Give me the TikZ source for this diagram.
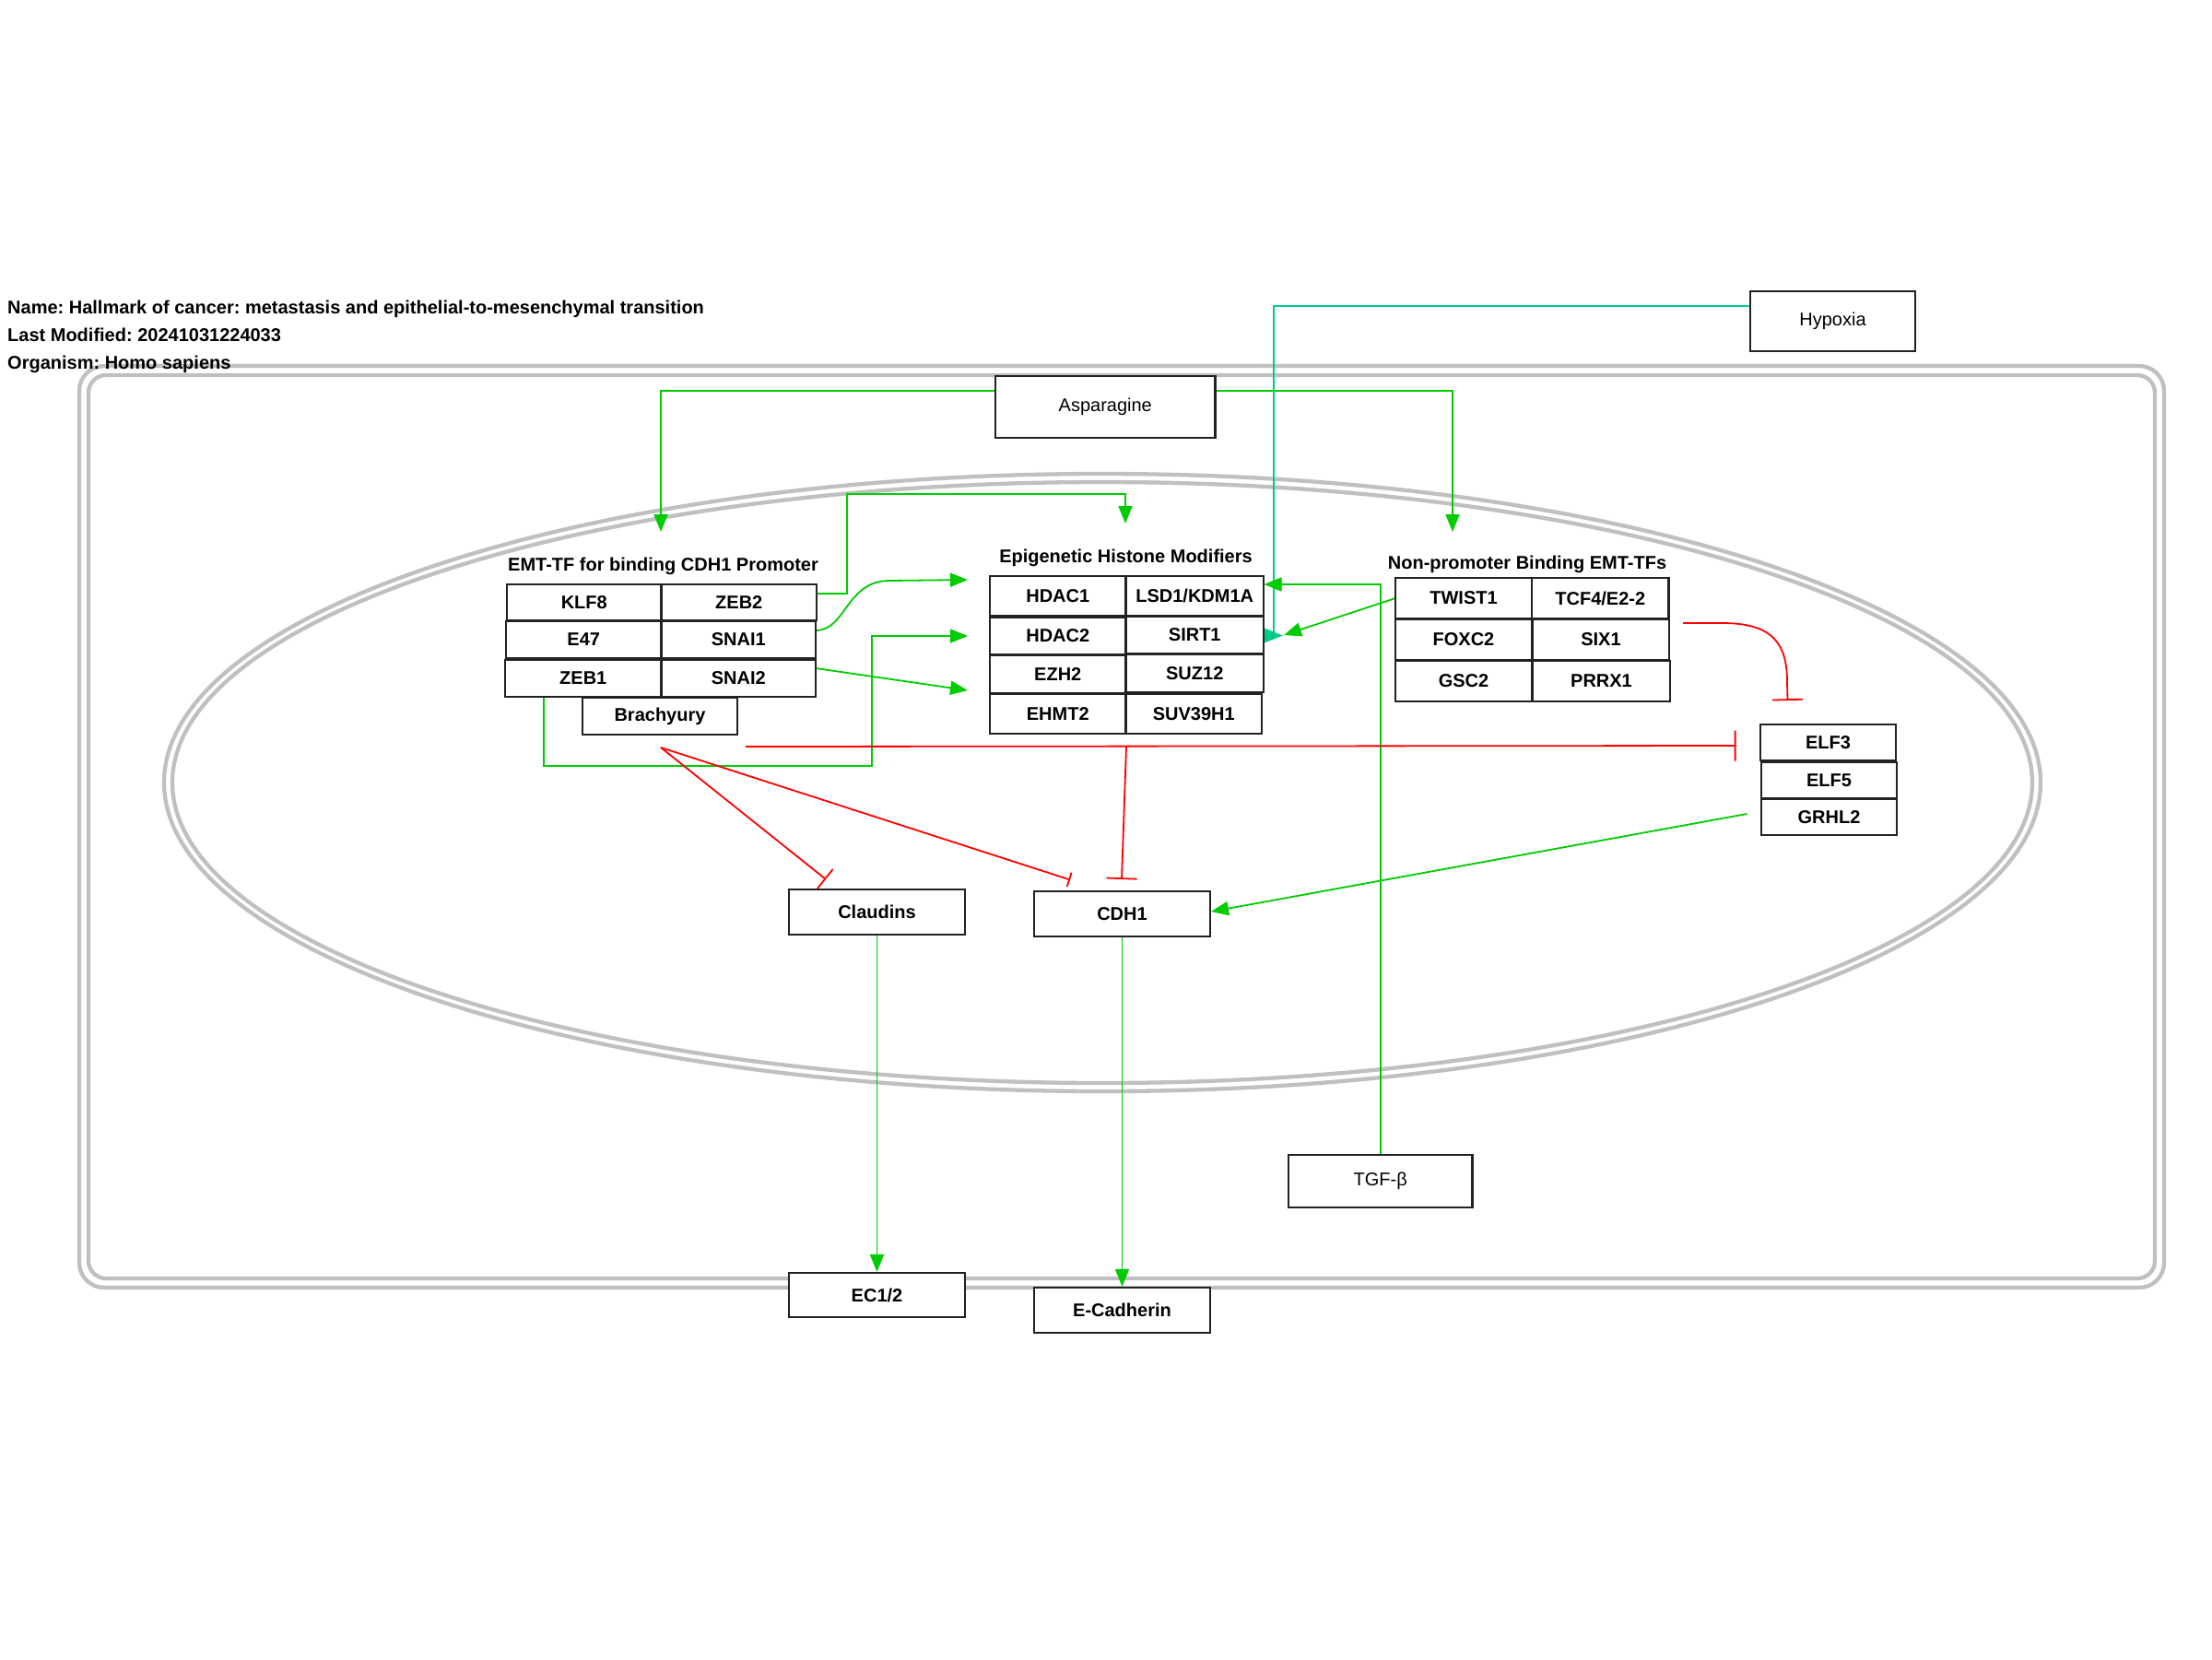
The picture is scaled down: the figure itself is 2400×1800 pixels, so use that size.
\documentclass[tikz,border=0pt]{standalone}
\usepackage{fontspec}
\setmainfont{Liberation Sans}
\usetikzlibrary{arrows.meta}
\frenchspacing
\definecolor{cellgray}{HTML}{C0C0C0}
\definecolor{lgreen}{HTML}{00CC00}
\definecolor{lteal}{HTML}{00CC88}
\definecolor{lred}{HTML}{FF0000}
\definecolor{boxline}{HTML}{222222}
\newcommand{\bx}[7][]{\node[box,#1,minimum width={(#5-#3)*1pt},minimum height={(#6-#4)*1pt}] (#2) at ({(#3+#5)/2},{(#4+#6)/2}) {#7};}
\tikzset{
  box/.style={draw=boxline,fill=white,line width=2.2pt,inner sep=0pt,font=\fontsize{20}{24}\selectfont\bfseries},
  grouplabel/.style={inner sep=0pt,anchor=base,font=\fontsize{20}{24}\selectfont\bfseries},
  titletext/.style={inner sep=0pt,anchor=base west,font=\fontsize{20}{24}\selectfont\bfseries},
  cellline/.style={draw=cellgray,line width=4.3pt},
  garrow/.style={draw=lgreen,line width=1.8pt,-{Triangle[length=19pt,width=15pt]}},
  tline/.style={draw=lteal,line width=1.8pt},
  rline/.style={draw=lred,line width=1.8pt},
}
\begin{document}
\begin{tikzpicture}[x=1pt,y=-1pt]
\useasboundingbox[fill=white] (0,0) rectangle (2400,1800);
% cell and nucleus
\draw[cellline,rounded corners=27pt] (86,397) rectangle (2348,1397);
\draw[cellline,rounded corners=19pt] (96,407) rectangle (2338,1387);
\draw[cellline] (1196,849) ellipse [x radius=1018pt, y radius=335pt];
\draw[cellline] (1196,849) ellipse [x radius=1009pt, y radius=326pt];
% title
\node[titletext] (t1) at (8,340) {Name: Hallmark of cancer: metastasis and epithelial-to-mesenchymal transition};
\node[titletext] (t2) at (8,370) {Last Modified: 20241031224033};
\node[titletext] (t3) at (8,400) {Organism: Homo sapiens};
% group labels
\node[grouplabel] (gemt) at (719.5,619) {EMT-TF for binding CDH1 Promoter};
\node[grouplabel] (gepi) at (1221.5,610) {Epigenetic Histone Modifiers};
\node[grouplabel] (gnon) at (1657,617) {Non-promoter Binding EMT-TFs};
% helper coordinates
\coordinate (y332) at (0,332);
\coordinate (y424) at (0,424);
\coordinate (aspL) at (717,577);
\coordinate (aspR) at (1576,577);
\coordinate (hypc) at (1382,689.5);
\coordinate (twst) at (1514,649);
\coordinate (twtip) at (1393,689);
\coordinate (lsdtip) at (1371.5,634);
\coordinate (zb2st) at (886,644);
\coordinate (zb2k) at (919,536);
\coordinate (epitip) at (1221,568);
\coordinate (s1st) at (885,684);
\coordinate (s1tip) at (1050,629);
\coordinate (z1st) at (590,756);
\coordinate (z1a) at (590,831);
\coordinate (z1b) at (946,690);
\coordinate (z1tip) at (1050,690);
\coordinate (s2st) at (885,725);
\coordinate (s2tip) at (1050,749);
\coordinate (bro) at (717,811);
\coordinate (cltee) at (896,954);
\coordinate (cdtee) at (1161,954.5);
\coordinate (rst) at (809,810);
\coordinate (elftee) at (1883.5,809);
\coordinate (rbr) at (1222,810);
\coordinate (cdtee2) at (1217,954);
\coordinate (sixst) at (1826,676);
\coordinate (sixtee) at (1939.5,760);
\coordinate (grst) at (1895.5,883);
\coordinate (cdtip) at (1314,989);
% boxes whose anchors are used
\bx{asp}{1080}{408}{1318.5}{475}{\mdseries Asparagine}
\bx{hyp}{1899}{316}{2078}{381}{\mdseries Hypoxia}
\bx{tgf}{1398}{1253}{1597.5}{1310}{\mdseries TGF-β}
% connectors
\draw[garrow] (asp.west |- y424) -| (aspL);
\draw[garrow] (asp.east |- y424) -| (aspR);
\draw[tline] (hyp.west |- y332) -| (hypc);
\fill[lteal] (1371.5,681.5) -- (1392,689.5) -- (1371.5,697.5) -- cycle;
\draw[garrow] (tgf.north) |- (lsdtip);
\draw[garrow] (twst) -- (twtip);
\draw[garrow] (zb2st) -| (zb2k) -| (epitip);
\draw[garrow] (s1st) .. controls (918,684) and (918,630) .. (965,630) -- (s1tip);
\draw[garrow] (z1st) -- (z1a) -| (z1b) -- (z1tip);
\draw[garrow] (s2st) -- (s2tip);
\draw[rline,-{Bar[width=27pt]}] (bro) -- (cltee);
\draw[rline,-{Bar[width=16pt]}] (bro) -- (cdtee);
\draw[rline,-{Bar[width=33pt]}] (rst) -- (elftee);
\draw[rline,-{Bar[width=33pt]}] (rbr) -- (cdtee2);
\draw[rline,-{Bar[width=33pt]}] (sixst) -- (1869,676) .. controls (1925,676) and (1939,700) .. (1939,740) -- (sixtee);
\draw[garrow] (grst) -- (cdtip);
% EMT-TF group
\bx{klf8}{550}{634}{717.5}{673}{KLF8}
\bx{zeb2}{717.5}{634}{886}{673}{ZEB2}
\bx{e47}{549}{674}{717.5}{714}{E47}
\bx{snai1}{717.5}{674}{885}{714}{SNAI1}
\bx{zeb1}{548}{716}{717.5}{756}{ZEB1}
\bx{snai2}{717.5}{716}{885}{756}{SNAI2}
\bx{brachy}{632}{757}{800}{797}{Brachyury}
% Epigenetic group
\bx{hdac1}{1074}{625}{1221.5}{668}{HDAC1}
\bx{lsd1}{1221.5}{625}{1371}{668}{LSD1/KDM1A}
\bx{hdac2}{1074}{670}{1221.5}{710}{HDAC2}
\bx{sirt1}{1221.5}{669}{1371}{709}{SIRT1}
\bx{ezh2}{1074}{711}{1221.5}{752}{EZH2}
\bx{suz12}{1221.5}{710}{1371}{751}{SUZ12}
\bx{ehmt2}{1074}{753}{1221.5}{796}{EHMT2}
\bx{suv}{1221.5}{753}{1369}{796}{SUV39H1}
% Non-promoter group
\bx{twist1}{1514}{627}{1662}{671}{TWIST1}
\bx{tcf4}{1662}{627}{1810.5}{671}{TCF4/E2-2}
\bx{foxc2}{1514}{672}{1662}{716}{FOXC2}
\bx{six1}{1663}{672}{1811}{716}{SIX1}
\bx{gsc2}{1514}{717}{1662}{761}{GSC2}
\bx{prrx1}{1663}{717}{1812}{761}{PRRX1}
% ELF group
\bx{elf3}{1910}{786}{2057}{825}{ELF3}
\bx{elf5}{1911}{827}{2058}{866}{ELF5}
\bx{grhl2}{1911}{867}{2058}{906}{GRHL2}
% targets
\bx{claudins}{856}{965}{1047}{1014}{Claudins}
\bx{cdh1}{1122}{967}{1313}{1016}{CDH1}
\bx{ec}{856}{1381}{1047}{1429}{EC1/2}
\bx{ecad}{1122}{1397}{1313}{1446}{E-Cadherin}
\draw[garrow] (claudins.south) -- (ec.north);
\draw[garrow] (cdh1.south) -- (ecad.north);
\end{tikzpicture}
\end{document}
